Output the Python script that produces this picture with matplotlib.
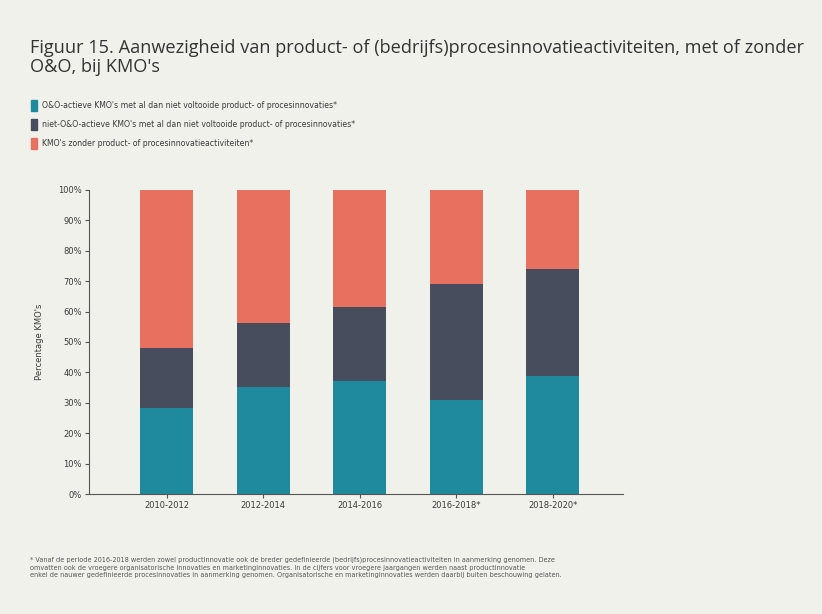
import matplotlib.pyplot as plt
import numpy as np

# Data (percent of KMO's)
periods = ['2010-2012', '2012-2014', '2014-2016', '2016-2018*', '2018-2020*']
oeno_actief = [28.4, 35.1, 37.2, 31.1, 38.8]
niet_oeno_actief = [19.5, 21.0, 24.2, 37.9, 35.2]
zonder_innovatie = [52.1, 43.9, 38.6, 31.0, 26.0]

series_labels = [
    "O&O-actieve KMO's met al dan niet voltooide product- of procesinnovaties*",
    "niet-O&O-actieve KMO's met al dan niet voltooide product- of procesinnovaties*",
    "KMO's zonder product- of procesinnovatieactiviteiten*",
]
colors = ['#1f8a9e', '#474d5c', '#e8705f']

bg = '#f1f1ec'
txt = '#3a3a3a'

fig = plt.figure(figsize=(8.22, 6.14), dpi=100, facecolor=bg)
ax = fig.add_axes([0.108, 0.195, 0.650, 0.496], facecolor=bg)

x = np.arange(len(periods))
bottom = np.zeros(len(periods))
for vals, col in zip([oeno_actief, niet_oeno_actief, zonder_innovatie], colors):
    ax.bar(x, vals, bottom=bottom, width=0.55, color=col, zorder=2)
    bottom += np.array(vals)

ax.set_ylim(0, 100)
ax.set_xlim(-0.81, 4.73)
ax.set_yticks(range(0, 101, 10))
ax.set_yticklabels([f'{v}%' for v in range(0, 101, 10)], fontsize=6, color=txt)
ax.set_xticks(x)
ax.set_xticklabels(periods, fontsize=6, color=txt)
ax.tick_params(axis='both', length=3, width=0.8, color='#555555', pad=2)
ax.set_ylabel("Percentage KMO's", fontsize=6, color=txt, labelpad=10)
for s in ['top', 'right']:
    ax.spines[s].set_visible(False)
for s in ['left', 'bottom']:
    ax.spines[s].set_color('#555555')
    ax.spines[s].set_linewidth(0.8)

# Title
fig.text(0.037, 0.937, "Figuur 15. Aanwezigheid van product- of (bedrijfs)procesinnovatieactiviteiten, met of zonder\nO&O, bij KMO's",
         fontsize=13.1, color='#333333', va='top', ha='left', family='Open Sans', linespacing=1.1)

# Legend
leg_y = [0.828, 0.797, 0.766]
for yy, lab, col in zip(leg_y, series_labels, colors):
    fig.patches.append(plt.Rectangle((0.038, yy - 0.009), 0.007, 0.018, transform=fig.transFigure,
                                     color=col, figure=fig))
    fig.text(0.051, yy, lab, fontsize=5.6, color=txt, va='center', ha='left')

# Footnote
note = ("* Vanaf de periode 2016-2018 werden zowel productinnovatie ook de breder gedefinieerde (bedrijfs)procesinnovatieactiviteiten in aanmerking genomen. Deze\n"
        "omvatten ook de vroegere organisatorische innovaties en marketinginnovaties. In de cijfers voor vroegere jaargangen werden naast productinnovatie\n"
        "enkel de nauwer gedefinieerde procesinnovaties in aanmerking genomen. Organisatorische en marketinginnovaties werden daarbij buiten beschouwing gelaten.")
fig.text(0.037, 0.093, note, fontsize=4.7, color='#555555', va='top', ha='left', linespacing=1.3)

fig.savefig('out.png', dpi=100, facecolor=bg)
